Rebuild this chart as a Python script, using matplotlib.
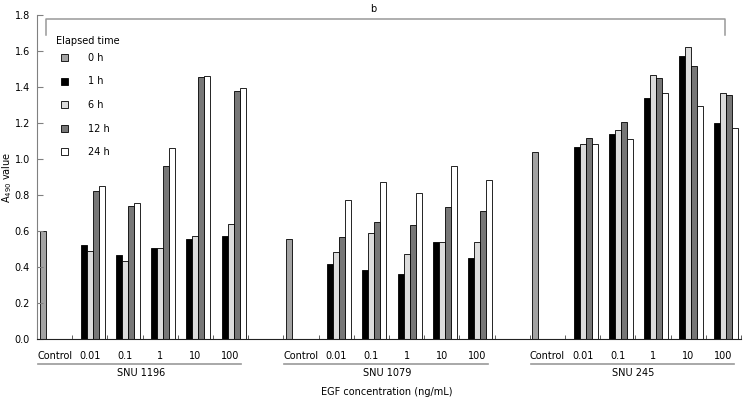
import matplotlib.pyplot as plt

# absorbance data
cell_lines = ['SNU 1196', 'SNU 1079', 'SNU 245']
doses = ['Control', '0.01', '0.1', '1', '10', '100']
hours = ['0 h', '1 h', '6 h', '12 h', '24 h']
colors = ['#a3a3a3', '#000000', '#dcdcdc', '#777777', '#ffffff']

control = [0.60, 0.555, 1.04]
# rows = 0.01 .. 100 ng/mL, cols = 1 h, 6 h, 12 h, 24 h
snu1196 = [[0.52, 0.49, 0.82, 0.85],
           [0.465, 0.43, 0.74, 0.755],
           [0.505, 0.505, 0.96, 1.06],
           [0.555, 0.57, 1.455, 1.46],
           [0.57, 0.64, 1.38, 1.395]]
snu1079 = [[0.415, 0.48, 0.565, 0.77],
           [0.38, 0.585, 0.65, 0.87],
           [0.36, 0.47, 0.635, 0.81],
           [0.54, 0.535, 0.73, 0.96],
           [0.45, 0.535, 0.71, 0.88]]
snu245 = [[1.065, 1.085, 1.115, 1.08],
          [1.14, 1.16, 1.205, 1.11],
          [1.34, 1.465, 1.45, 1.365],
          [1.57, 1.62, 1.515, 1.295],
          [1.20, 1.365, 1.355, 1.17]]
treated = [snu1196, snu1079, snu245]

plt.rcParams['font.family'] = 'DejaVu Sans'
fig = plt.figure(figsize=(7.48, 4.01), dpi=100)
ax = fig.add_axes([37 / 748, 62.3 / 401, 704 / 748, 323.7 / 401])

bw = 0.17
def slot(cat, j):
    return cat + 0.075 + bw * (j + 0.5)

# 0 h = control bars only
xs = [slot(g * 7, 0) for g in range(3)]
ax.bar(xs, control, width=bw, color=colors[0], edgecolor='black', linewidth=0.6, label=hours[0])
for j in range(1, 5):
    xs, hs = [], []
    for g in range(3):
        for k in range(5):
            xs.append(slot(g * 7 + 1 + k, j))
            hs.append(treated[g][k][j - 1])
    ax.bar(xs, hs, width=bw, color=colors[j], edgecolor='black', linewidth=0.6, label=hours[j])

ax.set_xlim(0, 20)
ax.set_ylim(0, 1.8)
ax.set_yticks([i * 0.2 for i in range(10)])
ax.set_yticklabels(['%.1f' % (i * 0.2) for i in range(10)])
centers = [g * 7 + k + 0.5 for g in range(3) for k in range(6)]
ax.set_xticks(centers)
ax.set_xticklabels(doses * 3)
ax.set_xticks(range(1, 21), minor=True)
ax.tick_params(axis='x', which='major', length=0, labelsize=7, pad=9)
ax.tick_params(axis='x', which='minor', direction='in', length=3, color='#444444')
ax.tick_params(axis='y', direction='in', length=4, labelsize=7, pad=5, color='#808080')

for s in ['top', 'right']:
    ax.spines[s].set_visible(False)
ax.spines['left'].set_color('#808080')
ax.spines['bottom'].set_color('#222222')

ax.set_ylabel(r'A$_{490}$ value', fontsize=7)
ax.yaxis.set_label_coords(-0.032, 0.5)

# cell line groups under the dose labels
tr = ax.get_xaxis_transform()
for g, name in enumerate(cell_lines):
    x0 = g * 7
    ax.plot([x0 + 0.03, x0 + 5.8], [-0.0772, -0.0772], color='#999999', lw=1.2,
            transform=tr, clip_on=False)
    ax.text(x0 + 2.95, -0.105, name, transform=tr, ha='center', va='center', fontsize=7)
ax.text(9.95, -0.1637, 'EGF concentration (ng/mL)', transform=tr, ha='center', va='center', fontsize=7)

# significance bracket
ax.plot([0.256, 0.256, 19.55, 19.55], [1.691, 1.78, 1.78, 1.691], color='#999999', lw=1.1, clip_on=False)
ax.text(9.55, 1.832, 'b', ha='center', va='center', fontsize=7)

ax.legend(loc='upper left', bbox_to_anchor=(56 / 748, 1 - 48 / 401),
          bbox_transform=fig.transFigure, frameon=False, fontsize=7,
          handlelength=0.75, handleheight=0.75, handletextpad=2.0, labelspacing=1.4,
          borderpad=0)
fig.text(56 / 748, 1 - 40.7 / 401, 'Elapsed time', ha='left', va='center', fontsize=7)

fig.savefig('out.png', dpi=100)
